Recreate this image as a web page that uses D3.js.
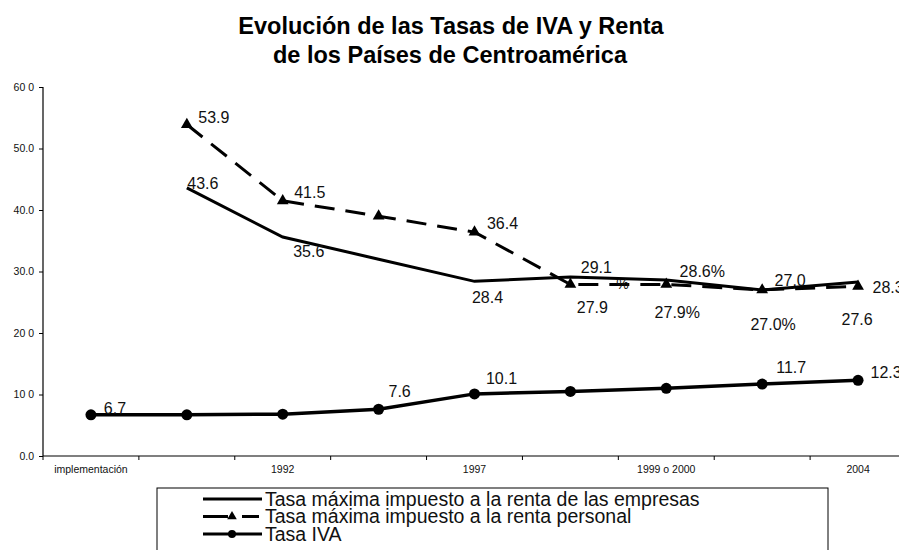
<!DOCTYPE html>
<html>
<head>
<meta charset="utf-8">
<script src="https://cdn.jsdelivr.net/npm/d3@7"></script>
<style>
  body { margin: 0; background: #fff; }
  svg { font-family: "Liberation Sans", Arial, sans-serif; }
</style>
</head>
<body>
<div id="chart"></div>
<script>
// categories on the x axis (only every other one is labelled)
var categories = ["implementación", "", "1992", "", "1997", "", "1999 o 2000", "", "2004"];
var yTickLabels = ["0.0", "10 0", "20 0", "30.0", "40.0", "50.0", "60 0"];

// series values
var empresas = [null, 43.6, 35.6, 32.0, 28.4, 29.1, 28.6, 27.0, 28.3];
var personal = [null, 53.9, 41.5, 39.0, 36.4, 27.9, 27.9, 27.0, 27.6];
var iva      = [6.7, 6.7, 6.8, 7.6, 10.1, 10.5, 11.0, 11.7, 12.3];

// data labels: [category index, text, dx, dy]
var empresasLabels = [[1, "43.6", 16, 1], [2, "35.6", 26, 20], [4, "28.4", 13, 22], [5, "29.1", 26, -4],
                      [6, "28.6%", 36, -3], [7, "27.0", 28, -4], [8, "28.3", 30, 11]];
var personalLabels = [[1, "53.9", 27, -2], [2, "41.5", 27, -3], [4, "36.4", 28, -3], [5, "27.9", 22, 29],
                      [6, "27.9%", 11, 34], [7, "27.0%", 11, 40], [8, "27.6", -1, 39]];
var ivaLabels = [[0, "6.7", 24, -1], [3, "7.6", 21, -12], [4, "10.1", 27, -10], [7, "11.7", 29, -11], [8, "12.3", 28, -2]];

var width = 899, height = 550;

var svg = d3.select("#chart")
    .append("svg")
    .attr("width", width)
    .attr("height", height);

// title
svg.append("text")
    .attr("x", 451).attr("y", 34)
    .attr("text-anchor", "middle")
    .attr("font-size", 23.5).attr("font-weight", "bold")
    .text("Evolución de las Tasas de IVA y Renta");
svg.append("text")
    .attr("x", 450).attr("y", 63)
    .attr("text-anchor", "middle")
    .attr("font-size", 23.5).attr("font-weight", "bold")
    .text("de los Países de Centroamérica");

var x = d3.scaleBand()
    .domain(d3.range(categories.length))
    .range([43, 906]);

var y = d3.scaleLinear()
    .domain([0, 60])
    .range([456, 87]);

var cx = (i) => x(i) + x.bandwidth() / 2;

// y axis
var yAxis = d3.axisLeft(y)
    .tickValues([0, 10, 20, 30, 40, 50, 60])
    .tickSize(4)
    .tickFormat((d, i) => yTickLabels[i]);
var gy = svg.append("g")
    .attr("transform", "translate(43,0)")
    .call(yAxis);
gy.select(".domain").attr("stroke", "#000").attr("stroke-width", 1.2).attr("d", "M0,87V456");
gy.selectAll("text").attr("font-size", 10.5).attr("fill", "#111").attr("x", -9);

// x axis, ticks between the categories
var gx = svg.append("g")
    .attr("transform", "translate(0,456)");
gx.append("line")
    .attr("x1", 43).attr("x2", 906)
    .attr("stroke", "#000").attr("stroke-width", 1.2);
gx.selectAll("line.tick")
    .data(d3.range(categories.length + 1))
    .enter().append("line")
    .attr("class", "tick")
    .attr("x1", (d) => 43 + d * x.step())
    .attr("x2", (d) => 43 + d * x.step())
    .attr("y1", 0).attr("y2", 4)
    .attr("stroke", "#000");
gx.selectAll("text")
    .data(categories)
    .enter().append("text")
    .attr("x", (d, i) => cx(i))
    .attr("y", 17)
    .attr("text-anchor", "middle")
    .attr("font-size", 10.5)
    .attr("fill", "#111")
    .text((d) => d);

var line = d3.line()
    .defined((d) => d != null)
    .x((d, i) => cx(i))
    .y((d) => y(d));

// personal income tax (dashed, triangles)
svg.append("path")
    .attr("d", line(personal))
    .attr("fill", "none")
    .attr("stroke", "#000")
    .attr("stroke-width", 3)
    .attr("stroke-dasharray", "20,11");
svg.selectAll("path.tri")
    .data(personal.map((v, i) => [i, v]).filter((d) => d[1] != null))
    .enter().append("path")
    .attr("class", "tri")
    .attr("transform", (d) => "translate(" + cx(d[0]) + "," + y(d[1]) + ")")
    .attr("d", d3.symbol().type(d3.symbolTriangle).size(60))
    .attr("fill", "#000");

// corporate income tax (solid)
svg.append("path")
    .attr("d", line(empresas))
    .attr("fill", "none")
    .attr("stroke", "#000")
    .attr("stroke-width", 3);

// VAT (solid, circles)
svg.append("path")
    .attr("d", line(iva))
    .attr("fill", "none")
    .attr("stroke", "#000")
    .attr("stroke-width", 3.5);
svg.selectAll("circle.iva")
    .data(iva)
    .enter().append("circle")
    .attr("class", "iva")
    .attr("cx", (d, i) => cx(i))
    .attr("cy", (d) => y(d))
    .attr("r", 5.5)
    .attr("fill", "#000");

// data labels
function addLabels (labels, values) {
    svg.append("g").selectAll("text")
        .data(labels)
        .enter().append("text")
        .attr("x", (d) => cx(d[0]) + d[2])
        .attr("y", (d) => y(values[d[0]]) + d[3])
        .attr("text-anchor", "middle")
        .attr("font-size", 16)
        .attr("fill", "#111")
        .text((d) => d[1]);
}
addLabels(empresasLabels, empresas);
addLabels(personalLabels, personal);
addLabels(ivaLabels, iva);

// stray "%" partly hidden behind the lines
svg.append("text")
    .attr("x", cx(5) + 52).attr("y", y(empresas[5]) + 12)
    .attr("text-anchor", "middle")
    .attr("font-size", 14)
    .attr("fill", "#111")
    .text("%");

// legend
var legendItems = ["Tasa máxima impuesto a la renta de las empresas",
                   "Tasa máxima impuesto a la renta personal",
                   "Tasa IVA"];
var legend = svg.append("g");
legend.append("rect")
    .attr("x", 157).attr("y", 488)
    .attr("width", 671).attr("height", 80)
    .attr("fill", "none")
    .attr("stroke", "#000")
    .attr("stroke-width", 1);
legendItems.forEach(function (name, i) {
    var ly = 499 + i * 17.5;
    if (i === 1) {
        legend.append("line").attr("x1", 203).attr("x2", 228).attr("y1", ly).attr("y2", ly)
            .attr("stroke", "#000").attr("stroke-width", 3);
        legend.append("line").attr("x1", 242).attr("x2", 259).attr("y1", ly).attr("y2", ly)
            .attr("stroke", "#000").attr("stroke-width", 3);
        legend.append("path")
            .attr("transform", "translate(232," + ly + ")")
            .attr("d", d3.symbol().type(d3.symbolTriangle).size(40))
            .attr("fill", "#000");
    } else {
        legend.append("line").attr("x1", 203).attr("x2", 262).attr("y1", ly).attr("y2", ly)
            .attr("stroke", "#000").attr("stroke-width", 3);
        if (i === 2) {
            legend.append("circle").attr("cx", 232).attr("cy", ly).attr("r", 4).attr("fill", "#000");
        }
    }
    legend.append("text")
        .attr("x", 265).attr("y", ly + 6.5)
        .attr("font-size", 19.5)
        .attr("fill", "#111")
        .text(name);
});
</script>
</body>
</html>
